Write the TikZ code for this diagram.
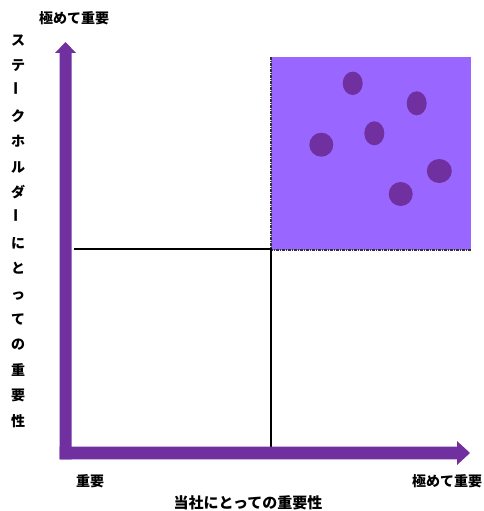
\documentclass[tikz,border=0pt]{standalone}
\usepackage{fontspec}
\newfontfamily\cjk{Noto Sans CJK JP}
\definecolor{axispurple}{HTML}{7030A0}
\definecolor{boxpurple}{HTML}{9966FF}
\definecolor{dotpurple}{HTML}{7030A0}
\tikzset{
  lbl/.style={font=\cjk\bfseries\fontsize{14}{16}\selectfont, inner sep=0pt},
  title/.style={font=\cjk\bfseries\fontsize{15}{17}\selectfont, inner sep=0pt},
  dot/.style={fill=dotpurple, draw=none},
  guide/.style={draw=black, line width=1.1pt},
  dashborder/.style={draw=black!80, line width=1.2pt, dash pattern=on 3pt off 1pt on 1pt off 1pt},
  axis/.style={fill=axispurple, draw=none}
}
\begin{document}
\begin{tikzpicture}[x=1pt,y=-1pt]
\useasboundingbox (0,0) rectangle (483,511);
% quadrant box
\fill[boxpurple] (271,57) rectangle (471,250);
\coordinate (bTL) at (271,57);
\coordinate (bBL) at (271,250);
\coordinate (bBR) at (471,250);
\draw[dashborder] (bTL) -- (bBL) -- (bBR);
% guide lines
\coordinate (gL) at (74,249);
\coordinate (gC) at (271,249);
\coordinate (gB) at (271,447);
\draw[guide] (gL) -- (gC) -- (gB);
% dots
\fill[dot] (352.7,83.3) ellipse [x radius=10, y radius=11.7];
\fill[dot] (416.7,103.3) ellipse [x radius=10, y radius=12];
\fill[dot] (374.3,133.3) ellipse [x radius=10, y radius=12];
\fill[dot] (321.3,144.7) ellipse [x radius=12, y radius=12];
\fill[dot] (439.3,171) ellipse [x radius=12.5, y radius=12];
\fill[dot] (400.7,194) ellipse [x radius=12, y radius=12];
% axes
\fill[axis] (59.5,459.3) -- (59.5,53) -- (55,53) -- (65.5,42) -- (76,53) -- (71.5,53) -- (71.5,459.3) -- cycle;
\fill[axis] (59.5,446.7) -- (457,446.7) -- (457,441) -- (470,453) -- (457,465) -- (457,459.3) -- (59.5,459.3) -- cycle;
% labels
\node[lbl] (ytop) at (74,18) {極めて重要};
\node[lbl] (xlow) at (90,481) {重要};
\node[lbl] (xhigh) at (447,481) {極めて重要};
\node[title] (xtitle) at (248,503) {当社にとっての重要性};
\node[lbl, align=center, font=\cjk\bfseries\fontsize{14}{25.4}\selectfont] (ytitle) at (18,231)
 {ス\\テ\\\rotatebox{90}{ー}\\ク\\ホ\\ル\\ダ\\\rotatebox{90}{ー}\\に\\と\\っ\\て\\の\\重\\要\\性};
\end{tikzpicture}
\end{document}
